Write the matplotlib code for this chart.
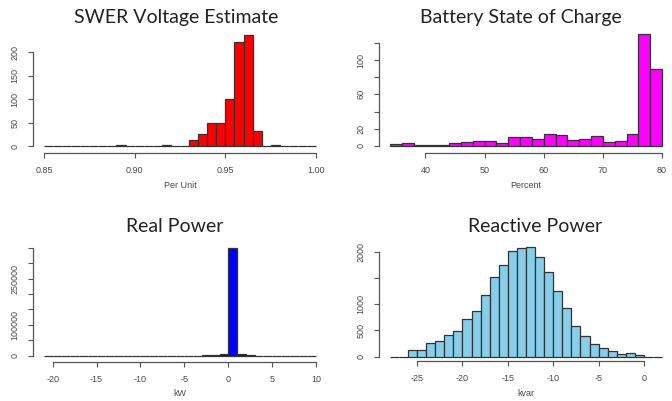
import numpy as np
import matplotlib.pyplot as plt

W, H = 672, 401

# SWER voltage histogram (per unit), bins of 0.005 from 0.85 to 1.00
volt_edges = np.round(np.arange(0.85, 1.0001, 0.005), 3)
volt_counts = [1, 0, 0, 1, 0, 0, 1, 0, 3, 0,
               1, 0, 0, 3, 0, 0, 12, 26, 50, 50,
               100, 221, 236, 31, 0, 2, 0, 1, 0, 1]

# battery state of charge (percent), bins of 2 from 34 to 80
soc_edges = np.arange(34, 81, 2)
soc_counts = [2, 4, 1.5, 1.5, 1.5, 3.5, 4.7, 5.5, 5.5, 4, 10, 10,
              8.6, 14, 12.5, 6.7, 8.6, 11.4, 4.3, 6.3, 14, 130, 89]

# real power (kW), bins of 1 from -21 to 10
p_edges = np.arange(-21, 11, 1)
p_counts = [0, 0, 0, 0, 0, 0, 0, 0, 0, 0, 0, 0, 0, 0, 50,
            200, 300, 500, 1000, 3500, 6000, 349000, 5000, 1500, 300,
            100, 0, 0, 0, 0, 0]

# reactive power (kvar), bins of 1 from -28 to 2
q_edges = np.arange(-28, 3, 1)
q_counts = [0, 0, 127, 127, 254, 305, 406, 495, 724, 863, 1168, 1524,
            1740, 2006, 2076, 2095, 1905, 1606, 1251, 933, 590, 387,
            248, 159, 114, 51, 76, 38, 0, 0]

plt.rcParams['font.family'] = ['Liberation Sans', 'DejaVu Sans']
fig = plt.figure(figsize=(W / 100, H / 100), dpi=100)


def panel(box, xlim, ylim, edges, counts, color, xticks, xlabels,
          yticks, ylabels, title, title_xy, xlabel, xlabel_y):
    x0, y0, x1, y1 = box
    ax = fig.add_axes([x0 / W, 1 - y1 / H, (x1 - x0) / W, (y1 - y0) / H])
    ax.bar(edges[:-1], counts, width=np.diff(edges), align='edge',
           color=color, edgecolor='#333333', linewidth=0.9)
    ax.set_xlim(*xlim)
    ax.set_ylim(*ylim)
    for s in ['top', 'right']:
        ax.spines[s].set_visible(False)
    for s in ['left', 'bottom']:
        ax.spines[s].set_color('#555555')
        ax.spines[s].set_linewidth(0.9)
    ax.spines['bottom'].set_bounds(xticks[0], xticks[-1])
    ax.spines['left'].set_bounds(yticks[0], yticks[-1])
    ax.set_xticks(xticks)
    ax.set_xticklabels(xlabels)
    ax.set_yticks(yticks)
    ax.set_yticklabels(ylabels, rotation=90, va='center')
    ax.tick_params(direction='out', length=3.5, width=0.8, color='#555555',
                   labelsize=6.5, labelcolor='#4a4a4a', pad=6)
    ax.patch.set_alpha(0)
    fig.text(title_xy[0] / W, 1 - title_xy[1] / H, title, ha='center',
             va='center', fontsize=14, family='Lato', color='#222222')
    fig.text((x0 + x1) / 2 / W, 1 - xlabel_y / H, xlabel, ha='center',
             va='center', fontsize=6.5, color='#4a4a4a')
    return ax


panel((33, 31, 327, 152.5), (0.844, 1.006), (-13.8, 244.7),
      volt_edges, volt_counts, '#ff0000',
      [0.85, 0.90, 0.95, 1.00], ['0.85', '0.90', '0.95', '1.00'],
      [0, 50, 100, 150, 200], ['0', '50', '100', '150', '200'],
      'SWER Voltage Estimate', (176, 18), 'Per Unit', 185)

panel((379, 30, 673, 152.5), (32.16, 81.84), (-7.6, 134.9),
      soc_edges, soc_counts, '#ff00ff',
      [40, 50, 60, 70, 80], ['40', '50', '60', '70', '80'],
      [0, 20, 40, 60, 80, 100, 120], ['0', '20', '', '60', '', '100', ''],
      'Battery State of Charge', (521, 18), 'Percent', 185)

panel((33, 243.4, 327, 362), (-22.24, 11.24), (-20400, 364000),
      p_edges, p_counts, '#0000ff',
      [-20, -15, -10, -5, 0, 5, 10],
      ['-20', '-15', '-10', '-5', '0', '5', '10'],
      list(range(0, 350001, 50000)),
      ['0', '', '100000', '', '', '250000', '', ''],
      'Real Power', (175, 226), 'kW', 393)

panel((379, 242.3, 673, 361), (-29.2, 3.2), (-82, 2179),
      q_edges, q_counts, '#87ceeb',
      [-25, -20, -15, -10, -5, 0], ['-25', '-20', '-15', '-10', '-5', '0'],
      [0, 500, 1000, 1500, 2000], ['0', '500', '1000', '', '2000'],
      'Reactive Power', (535, 226), 'kvar', 393)

fig.savefig('out.png', dpi=100)
